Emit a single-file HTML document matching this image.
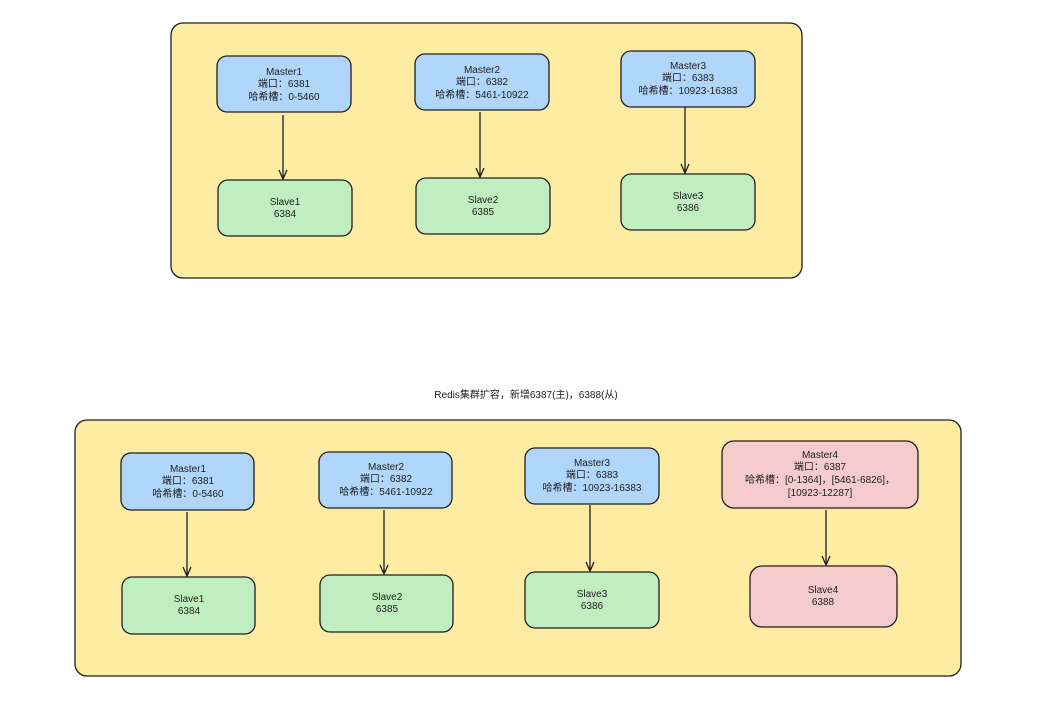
<!DOCTYPE html>
<html><head><meta charset="utf-8"><style>
html,body{margin:0;padding:0;background:#fff;width:1063px;height:702px;overflow:hidden}
text{font-family:"Liberation Sans","Noto Sans CJK SC",sans-serif;font-size:10px;fill:#1e1e1e;text-anchor:middle}
.c{fill:#fdeca2;stroke:#1e1e1e;stroke-width:1.3}
.b{fill:#b0d6fb;stroke:#1e1e1e;stroke-width:1.3}
.g{fill:#c1eec0;stroke:#1e1e1e;stroke-width:1.3}
.p{fill:#f6cbcb;stroke:#1e1e1e;stroke-width:1.3}
.a{stroke:#1e1e1e;stroke-width:1.3;fill:none}
</style></head><body>
<svg width="1063" height="702" xmlns="http://www.w3.org/2000/svg">
<rect class="c" x="171" y="23" width="631" height="255" rx="12"/>
<rect class="b" x="217" y="56" width="134" height="56" rx="10"/>
<text x="284" y="75">Master1</text><text x="284" y="87">端口：6381</text><text x="284" y="100">哈希槽：0-5460</text>
<rect class="g" x="218" y="180" width="134" height="56" rx="10"/>
<text x="285" y="205">Slave1</text><text x="285" y="217">6384</text>
<path class="a" d="M283 115V179M279 170L283 179L287 170"/>

<rect class="b" x="415" y="54" width="134" height="56" rx="10"/>
<text x="482" y="73">Master2</text><text x="482" y="85">端口：6382</text><text x="482" y="98">哈希槽：5461-10922</text>
<rect class="g" x="416" y="178" width="134" height="56" rx="10"/>
<text x="483" y="203">Slave2</text><text x="483" y="215">6385</text>
<path class="a" d="M480 112V177M476 168L480 177L484 168"/>

<rect class="b" x="621" y="51" width="134" height="56" rx="10"/>
<text x="688" y="69">Master3</text><text x="688" y="81">端口：6383</text><text x="688" y="94">哈希槽：10923-16383</text>
<rect class="g" x="621" y="174" width="134" height="56" rx="10"/>
<text x="688" y="199">Slave3</text><text x="688" y="211">6386</text>
<path class="a" d="M685 107V173M681 164L685 173L689 164"/>

<text x="526" y="398">Redis集群扩容，新增6387(主)，6388(从)</text>

<rect class="c" x="75" y="420" width="886" height="256" rx="12"/>
<rect class="b" x="121" y="453" width="133" height="57" rx="10"/>
<text x="188" y="472">Master1</text><text x="188" y="484">端口：6381</text><text x="188" y="497">哈希槽：0-5460</text>
<rect class="g" x="122" y="577" width="133" height="57" rx="10"/>
<text x="189" y="602">Slave1</text><text x="189" y="614">6384</text>
<path class="a" d="M187 512V576M183 567L187 576L191 567"/>

<rect class="b" x="319" y="452" width="133" height="56" rx="10"/>
<text x="386" y="470">Master2</text><text x="386" y="482">端口：6382</text><text x="386" y="495">哈希槽：5461-10922</text>
<rect class="g" x="320" y="575" width="133" height="57" rx="10"/>
<text x="387" y="600">Slave2</text><text x="387" y="612">6385</text>
<path class="a" d="M384 510V574M380 565L384 574L388 565"/>

<rect class="b" x="525" y="448" width="134" height="56" rx="10"/>
<text x="592" y="466">Master3</text><text x="592" y="478">端口：6383</text><text x="592" y="491">哈希槽：10923-16383</text>
<rect class="g" x="525" y="572" width="134" height="56" rx="10"/>
<text x="592" y="597">Slave3</text><text x="592" y="609">6386</text>
<path class="a" d="M590 505V571M586 562L590 571L594 562"/>

<rect class="p" x="722" y="441" width="196" height="67" rx="12"/>
<text x="820" y="458">Master4</text><text x="820" y="470">端口：6387</text><text x="820" y="483">哈希槽：[0-1364]，[5461-6826]，</text><text x="820" y="496">[10923-12287]</text>
<rect class="p" x="750" y="566" width="147" height="61" rx="12"/>
<text x="823" y="593">Slave4</text><text x="823" y="605">6388</text>
<path class="a" d="M826 510V565M822 556L826 565L830 556"/>
</svg>
</body></html>
